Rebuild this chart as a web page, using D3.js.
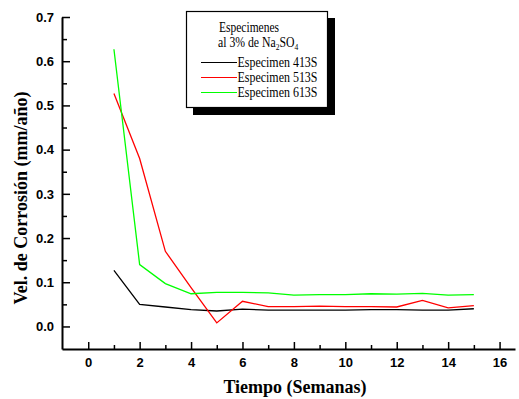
<!DOCTYPE html>
<html>
<head>
<meta charset="utf-8">
<script src="https://cdn.jsdelivr.net/npm/d3@7"></script>
<style>
  body { margin: 0; background: #fff; }
  .tick text { font-family: "Liberation Sans", Arial, sans-serif; font-weight: bold; font-size: 13px; }
  .axisTitle { font-family: "Liberation Serif", "Times New Roman", serif; font-weight: bold; font-size: 18px; }
  .legendText { font-family: "Liberation Serif", "Times New Roman", serif; font-size: 14px; }
</style>
</head>
<body>
<div class="chart"></div>
<script>
// data
var weeks = [1, 2, 3, 4, 5, 6, 7, 8, 9, 10, 11, 12, 13, 14, 15];
var esp413 = [0.127, 0.050, 0.044, 0.038, 0.035, 0.039, 0.037, 0.037, 0.037, 0.037, 0.038, 0.038, 0.037, 0.037, 0.040];
var esp513 = [0.527, 0.380, 0.170, 0.088, 0.008, 0.057, 0.045, 0.045, 0.046, 0.045, 0.045, 0.044, 0.059, 0.042, 0.047];
var esp613 = [0.627, 0.140, 0.097, 0.074, 0.077, 0.077, 0.076, 0.071, 0.072, 0.072, 0.074, 0.073, 0.075, 0.071, 0.072];
var seriesNames = ["Especimen 413S", "Especimen 513S", "Especimen 613S"];
var seriesColors = ["#000000", "#ff0000", "#00ff00"];
var xTicks = [0, 2, 4, 6, 8, 10, 12, 14, 16];
var yTicks = [0.0, 0.1, 0.2, 0.3, 0.4, 0.5, 0.6, 0.7];

var svgWidth = 519;
var svgHeight = 399;

var margin = { top: 17, right: 4, bottom: 50, left: 62 };
var width = svgWidth - margin.left - margin.right;
var height = svgHeight - margin.top - margin.bottom;

var svg = d3.select(".chart")
  .append("svg")
  .attr("width", svgWidth)
  .attr("height", svgHeight);

var chartGroup = svg.append("g")
  .attr("transform", `translate(${margin.left}, ${margin.top})`);

var xScale = d3.scaleLinear().domain([-1.02, 16.6]).range([0, width]);
var yScale = d3.scaleLinear().domain([-0.051, 0.7]).range([height, 0]);

// minor ticks first, major on top
chartGroup.append("g")
  .attr("transform", `translate(0, ${height})`)
  .call(d3.axisBottom(xScale).tickValues(d3.range(1, 16, 2)).tickSizeInner(-4).tickSizeOuter(0).tickFormat(""))
  .call(g => g.select(".domain").remove())
  .selectAll("line").attr("stroke-width", 1.5);

chartGroup.append("g")
  .call(d3.axisLeft(yScale).tickValues(d3.range(0.05, 0.7, 0.1)).tickSizeInner(-5).tickSizeOuter(0).tickFormat(""))
  .call(g => g.select(".domain").remove())
  .selectAll("line").attr("stroke-width", 1.5);

var xAxis = chartGroup.append("g")
  .attr("transform", `translate(0, ${height})`)
  .call(d3.axisBottom(xScale).tickValues(xTicks).tickSizeInner(-7).tickSizeOuter(0).tickPadding(9).tickFormat(d3.format("d")));
xAxis.select(".domain").attr("stroke-width", 2);
xAxis.selectAll("line").attr("stroke-width", 1.5);
xAxis.selectAll("text").attr("fill", "#000");

var yAxis = chartGroup.append("g")
  .call(d3.axisLeft(yScale).tickValues(yTicks).tickSizeInner(-8).tickSizeOuter(0).tickPadding(8).tickFormat(d3.format(".1f")));
yAxis.select(".domain").attr("stroke-width", 2);
yAxis.selectAll("line").attr("stroke-width", 1.5);
yAxis.selectAll("text").attr("fill", "#000");

// lines
var line = d3.line()
  .x((d, i) => xScale(weeks[i]))
  .y(d => yScale(d));

[esp413, esp513, esp613].forEach(function(vals, i) {
  chartGroup.append("path")
    .datum(vals)
    .attr("fill", "none")
    .attr("stroke", seriesColors[i])
    .attr("stroke-width", 1.3)
    .attr("d", line);
});

// axis titles
svg.append("text")
  .attr("class", "axisTitle")
  .attr("text-anchor", "middle")
  .attr("x", 295)
  .attr("y", 393)
  .text("Tiempo (Semanas)");

svg.append("text")
  .attr("class", "axisTitle")
  .attr("text-anchor", "middle")
  .attr("transform", "translate(27, 198) rotate(-90)")
  .text("Vel. de Corrosión (mm/año)");

// legend
var legend = svg.append("g");
legend.append("rect")
  .attr("x", 193).attr("y", 18).attr("width", 142).attr("height", 97)
  .attr("fill", "#000");
legend.append("rect")
  .attr("x", 186.5).attr("y", 11.5).attr("width", 141).attr("height", 96)
  .attr("fill", "#fff").attr("stroke", "#000").attr("stroke-width", 1.2);

legend.append("text")
  .attr("class", "legendText")
  .attr("x", 219).attr("y", 32)
  .attr("textLength", 60).attr("lengthAdjust", "spacingAndGlyphs")
  .text("Especimenes");

var sub = legend.append("text")
  .attr("class", "legendText")
  .attr("transform", "translate(218, 47) scale(0.84, 1)");
sub.append("tspan").text("al 3% de Na");
sub.append("tspan").attr("font-size", "9px").attr("dy", 3).text("2");
sub.append("tspan").attr("dy", -3).text("SO");
sub.append("tspan").attr("font-size", "9px").attr("dy", 3).text("4");

seriesNames.forEach(function(name, i) {
  var ly = 62.5 + i * 15;
  legend.append("line")
    .attr("x1", 201).attr("x2", 237)
    .attr("y1", ly).attr("y2", ly)
    .attr("stroke", seriesColors[i])
    .attr("stroke-width", 1.2);
  legend.append("text")
    .attr("class", "legendText")
    .attr("x", 237.5).attr("y", ly + 4.5)
    .attr("textLength", 80).attr("lengthAdjust", "spacingAndGlyphs")
    .text(name);
});
</script>
</body>
</html>
